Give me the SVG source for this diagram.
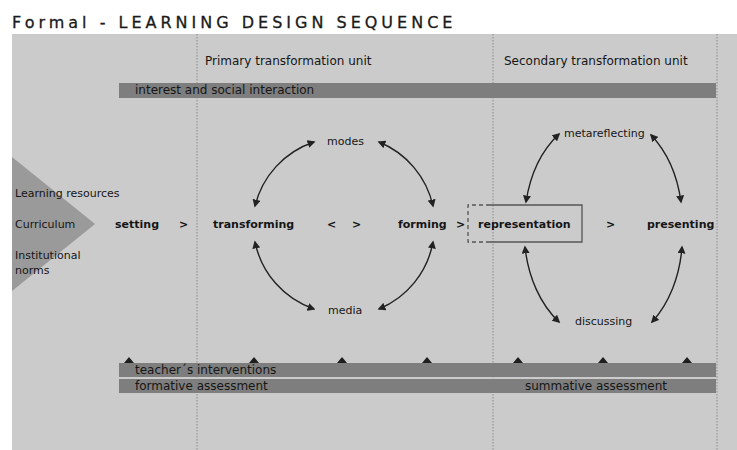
<svg xmlns="http://www.w3.org/2000/svg" width="737" height="450" viewBox="0 0 737 450">
  <style>
    text { font-family: "DejaVu Sans", Verdana, sans-serif; fill: #161616; }
    .title { font-size: 16px; letter-spacing: 4px; fill: #1a1a1a; stroke: #1a1a1a; stroke-width: 0.3; }
    .head { font-size: 12px; }
    .lbl { font-size: 11px; }
    .bar-text { font-size: 12px; }
    .step { font-size: 11px; font-weight: bold; }
    .bar { fill: #7e7e7e; }
    .divider { stroke: #8c8c8c; stroke-width: 1; stroke-dasharray: 1.5 1.5; fill: none; }
    .link { stroke: #222; stroke-width: 1.4; fill: none; marker-start: url(#head); marker-end: url(#head); }
    .tick { fill: #1e1e1e; }
  </style>
  <defs>
    <marker id="head" viewBox="0 0 10 10" refX="8" refY="5" markerWidth="8" markerHeight="8" markerUnits="userSpaceOnUse" orient="auto-start-reverse">
      <path d="M0,0 L10,5 L0,10 Z" fill="#222"/>
    </marker>
  </defs>

  <rect x="0" y="0" width="737" height="450" fill="#ffffff"/>

  <!-- title -->
  <text class="title" x="12" y="28">Formal - LEARNING DESIGN SEQUENCE</text>

  <!-- canvas -->
  <rect x="12" y="34" width="725" height="416" fill="#cbcbcb"/>

  <!-- inputs wedge -->
  <g id="inputs">
    <polygon points="12,157 95,224 12,291" fill="#9a9a9a"/>
    <text class="lbl" x="15" y="197">Learning resources</text>
    <text class="lbl" x="15" y="228">Curriculum</text>
    <text class="lbl" x="15" y="259">Institutional</text>
    <text class="lbl" x="15" y="274">norms</text>
  </g>

  <!-- unit dividers -->
  <g id="dividers">
    <line class="divider" x1="197" y1="34" x2="197" y2="450"/>
    <line class="divider" x1="493" y1="34" x2="493" y2="450"/>
    <line class="divider" x1="717" y1="34" x2="717" y2="450"/>
  </g>

  <g id="unit-headers">
    <text class="head" x="205" y="65">Primary transformation unit</text>
    <text class="head" x="504" y="65">Secondary transformation unit</text>
  </g>

  <g id="interest-bar">
    <rect class="bar" x="119" y="83" width="597" height="15"/>
    <text class="bar-text" x="135" y="94">interest and social interaction</text>
  </g>

  <!-- sequence steps -->
  <g id="setting">
    <text class="step" x="115" y="228">setting</text>
    <text class="step" x="179" y="228">&gt;</text>
  </g>
  <g id="transforming">
    <text class="step" x="213" y="228">transforming</text>
  </g>
  <g id="exchange">
    <text class="step" x="327" y="228">&lt;</text>
    <text class="step" x="352" y="228">&gt;</text>
  </g>
  <g id="forming">
    <text class="step" x="398" y="228">forming</text>
    <text class="step" x="456" y="228">&gt;</text>
  </g>
  <g id="representation">
    <path d="M490,205 H468 V242 H490" fill="none" stroke="#555" stroke-width="1.3" stroke-dasharray="4 3"/>
    <path d="M490,205 H582 V242 H490" fill="none" stroke="#555" stroke-width="1.3"/>
    <text class="step" x="478" y="228">representation</text>
  </g>
  <g id="to-presenting">
    <text class="step" x="606" y="228">&gt;</text>
  </g>
  <g id="presenting">
    <text class="step" x="647" y="228">presenting</text>
  </g>

  <!-- cycle labels -->
  <g id="modes"><text class="lbl" x="327" y="145">modes</text></g>
  <g id="media"><text class="lbl" x="328" y="314">media</text></g>
  <g id="metareflecting"><text class="lbl" x="564" y="137">metareflecting</text></g>
  <g id="discussing"><text class="lbl" x="575" y="325">discussing</text></g>

  <!-- connectors -->
  <g id="connectors">
    <path class="link" d="M255,206 A90,90 0 0 1 314,142"/>
    <path class="link" d="M379,142 A90,90 0 0 1 433,206"/>
    <path class="link" d="M255,242 A90,90 0 0 0 314,309"/>
    <path class="link" d="M379,309 A90,90 0 0 0 433,242"/>
    <path class="link" d="M526,202 A80,110 0 0 1 559,134"/>
    <path class="link" d="M651,135 A80,110 0 0 1 681,202"/>
    <path class="link" d="M525,247 A80,110 0 0 0 559,322"/>
    <path class="link" d="M652,322 A80,110 0 0 0 682,247"/>
  </g>

  <!-- teacher interventions -->
  <g id="interventions">
    <g class="tick">
      <path d="M124,363 L129,357 L134,363 Z"/>
      <path d="M249,363 L254,357 L259,363 Z"/>
      <path d="M337,363 L342,357 L347,363 Z"/>
      <path d="M422,363 L427,357 L432,363 Z"/>
      <path d="M513,363 L518,357 L523,363 Z"/>
      <path d="M598,363 L603,357 L608,363 Z"/>
      <path d="M682,363 L687,357 L692,363 Z"/>
    </g>
    <rect class="bar" x="119" y="363" width="597" height="14"/>
    <text class="bar-text" x="135" y="374">teacher´s interventions</text>
  </g>

  <g id="assessment">
    <rect class="bar" x="119" y="379" width="597" height="14"/>
    <text class="bar-text" x="135" y="390">formative assessment</text>
    <text class="bar-text" x="525" y="390">summative assessment</text>
  </g>
</svg>
